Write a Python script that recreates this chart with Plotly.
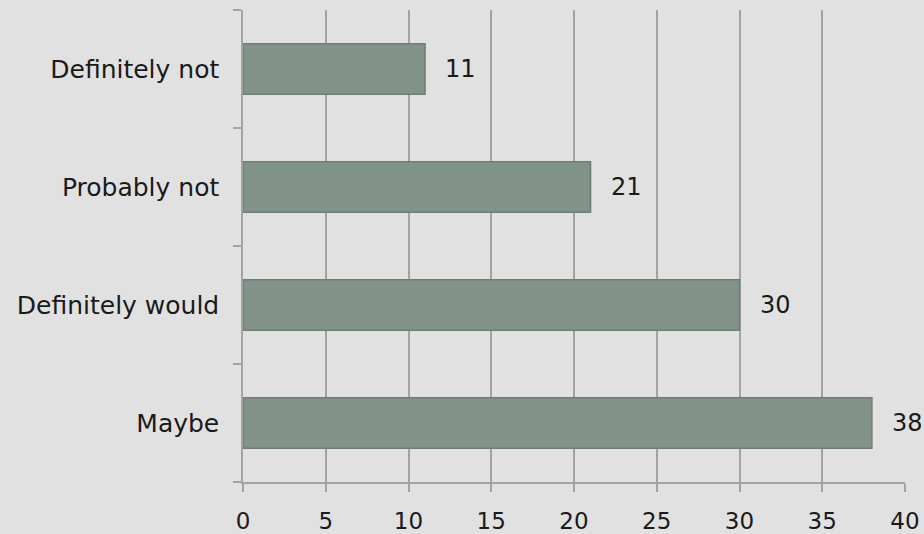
import plotly.graph_objects as go

categories = ["Maybe", "Definitely would", "Probably not", "Definitely not"]
values = [38, 30, 21, 11]
x_ticks = [0, 5, 10, 15, 20, 25, 30, 35, 40]

FONT = "DejaVu Sans"
FS = 25
GRID = "#a3a3a3"
BG = "#e1e1e1"

fig = go.Figure()
fig.add_trace(go.Bar(
    y=categories, x=values, orientation="h",
    width=0.43,
    marker=dict(color="#82938a", line=dict(color="#6e7e74", width=1.5)),
    hoverinfo="x+y",
))

for c, v in zip(categories, values):
    fig.add_annotation(x=v, y=c, text=str(v), showarrow=False,
                       xanchor="left", xshift=18,
                       font=dict(family=FONT, size=24, color="#1a1a1a"))

fig.update_layout(
    width=924, height=534,
    margin=dict(l=243, r=19, t=10, b=52, autoexpand=False),
    paper_bgcolor=BG, plot_bgcolor=BG,
    showlegend=False,
    font=dict(family=FONT, size=FS, color="#1a1a1a"),
)
fig.update_xaxes(
    range=[0, 40], tickvals=x_ticks, ticktext=[str(t) for t in x_ticks],
    showgrid=True, gridcolor=GRID, gridwidth=1.5,
    showline=True, linecolor=GRID, linewidth=1.5,
    ticks="outside", ticklen=8, tickcolor=GRID, tickwidth=1.5,
    ticklabelstandoff=10, zeroline=False, automargin=False,
    tickfont=dict(family=FONT, size=23, color="#1a1a1a"),
)
fig.update_yaxes(
    categoryorder="array", categoryarray=categories,
    showgrid=False, showline=True, linecolor=GRID, linewidth=1.5,
    ticks="outside", ticklen=8, tickcolor=GRID, tickwidth=1.5,
    tickson="boundaries", ticklabelstandoff=17, automargin=False,
    tickfont=dict(family=FONT, size=FS, color="#1a1a1a"),
)

fig.write_html(
    "out.html",
    config={"displayModeBar": False},
    post_script="document.body.style.margin='0';document.body.style.background='%s';" % BG,
)
